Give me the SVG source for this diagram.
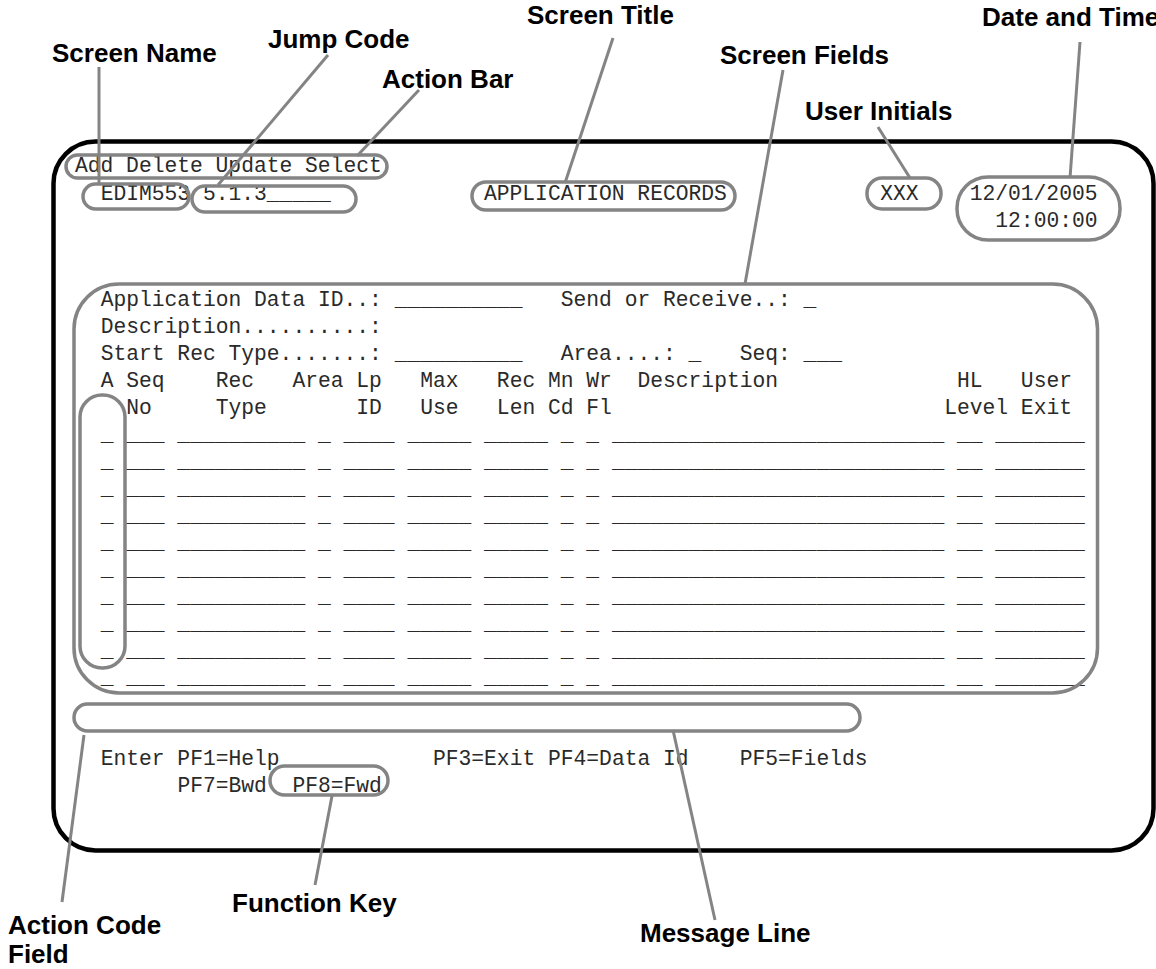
<svg xmlns="http://www.w3.org/2000/svg" width="1156" height="969" viewBox="0 0 1156 969" xml:space="preserve">
<style>
.scr{font-family:"Liberation Mono","Courier New",monospace;font-size:21.3px;fill:#2a2a2a;white-space:pre}
.lbl{font-family:"Liberation Sans",Arial,sans-serif;font-size:26px;font-weight:bold;fill:#000}
.hl{fill:none;stroke:#848484;stroke-width:3.5}
.con{stroke:#848484;stroke-width:3;fill:none}
</style>
<rect x="0" y="0" width="1156" height="969" fill="#fff"/>
<g id="frame"><rect x="53.5" y="141.5" width="1100" height="709" rx="42" fill="none" stroke="#000" stroke-width="4.5"/></g>
<g id="screen-text">
<text class="scr" xml:space="preserve" x="75" y="172">Add Delete Update Select</text>
<text class="scr" xml:space="preserve" x="100.7" y="200">EDIM553 5.1.3_____</text>
<text class="scr" xml:space="preserve" x="484" y="200">APPLICATION RECORDS</text>
<text class="scr" xml:space="preserve" x="880.3" y="200">XXX</text>
<text class="scr" xml:space="preserve" x="969.7" y="200">12/01/2005</text>
<text class="scr" xml:space="preserve" x="995.3" y="227">12:00:00</text>
<text class="scr" xml:space="preserve" x="100.7" y="306">Application Data ID..: __________   Send or Receive..: _</text>
<text class="scr" xml:space="preserve" x="100.7" y="333">Description..........:</text>
<text class="scr" xml:space="preserve" x="100.7" y="360">Start Rec Type.......: __________   Area....: _   Seq: ___</text>
<text class="scr" xml:space="preserve" x="100.7" y="387">A Seq    Rec   Area Lp   Max   Rec Mn Wr  Description              HL   User</text>
<text class="scr" xml:space="preserve" x="100.7" y="414">  No     Type       ID   Use   Len Cd Fl                          Level Exit</text>
<text class="scr" xml:space="preserve" x="100.7" y="441">_ ___ __________ _ ____ _____ _____ _ _ __________________________ __ _______</text>
<text class="scr" xml:space="preserve" x="100.7" y="468">_ ___ __________ _ ____ _____ _____ _ _ __________________________ __ _______</text>
<text class="scr" xml:space="preserve" x="100.7" y="495">_ ___ __________ _ ____ _____ _____ _ _ __________________________ __ _______</text>
<text class="scr" xml:space="preserve" x="100.7" y="522">_ ___ __________ _ ____ _____ _____ _ _ __________________________ __ _______</text>
<text class="scr" xml:space="preserve" x="100.7" y="549">_ ___ __________ _ ____ _____ _____ _ _ __________________________ __ _______</text>
<text class="scr" xml:space="preserve" x="100.7" y="576">_ ___ __________ _ ____ _____ _____ _ _ __________________________ __ _______</text>
<text class="scr" xml:space="preserve" x="100.7" y="603">_ ___ __________ _ ____ _____ _____ _ _ __________________________ __ _______</text>
<text class="scr" xml:space="preserve" x="100.7" y="630">_ ___ __________ _ ____ _____ _____ _ _ __________________________ __ _______</text>
<text class="scr" xml:space="preserve" x="100.7" y="657">_ ___ __________ _ ____ _____ _____ _ _ __________________________ __ _______</text>
<text class="scr" xml:space="preserve" x="100.7" y="684">_ ___ __________ _ ____ _____ _____ _ _ __________________________ __ _______</text>
<text class="scr" xml:space="preserve" x="100.7" y="765">Enter PF1=Help            PF3=Exit PF4=Data Id    PF5=Fields</text>
<text class="scr" xml:space="preserve" x="177.4" y="792">PF7=Bwd  PF8=Fwd</text>
</g>
<g id="box-action-bar"><rect class="hl" x="66" y="155" width="321" height="23" rx="11.5"/></g>
<g id="box-screen-name"><rect class="hl" x="83" y="184" width="106" height="25" rx="12.5"/></g>
<g id="box-jump-code"><rect class="hl" x="192" y="186" width="164" height="26" rx="13"/></g>
<g id="box-screen-title"><rect class="hl" x="472" y="182" width="263" height="28" rx="14"/></g>
<g id="box-user-initials"><rect class="hl" x="867" y="178" width="74" height="31" rx="15"/></g>
<g id="box-date-time"><rect class="hl" x="957" y="177" width="163" height="63" rx="31"/></g>
<g id="box-screen-fields"><rect class="hl" x="74" y="284" width="1023.5" height="409" rx="45"/></g>
<g id="box-action-code"><rect class="hl" x="80" y="395" width="45" height="273" rx="22"/></g>
<g id="box-message-line"><rect class="hl" x="74" y="704" width="786" height="27" rx="13.5"/></g>
<g id="box-function-key"><rect class="hl" x="270" y="766" width="118" height="29" rx="14.5"/></g>
<g id="connectors">
<line class="con" x1="99" y1="67" x2="99" y2="183"/>
<line class="con" x1="328" y1="55" x2="218" y2="185"/>
<line class="con" x1="419" y1="90" x2="357" y2="156"/>
<line class="con" x1="613" y1="38" x2="565" y2="183"/>
<line class="con" x1="783" y1="70" x2="745" y2="284"/>
<line class="con" x1="878" y1="127" x2="910" y2="178"/>
<line class="con" x1="1080" y1="42" x2="1070" y2="178"/>
<line class="con" x1="84" y1="735" x2="62" y2="902"/>
<line class="con" x1="332" y1="796" x2="315" y2="885"/>
<line class="con" x1="673" y1="730" x2="715" y2="920"/>
</g>
<g id="label-screen-name"><text class="lbl" x="52" y="62">Screen Name</text></g>
<g id="label-jump-code"><text class="lbl" x="268" y="48">Jump Code</text></g>
<g id="label-action-bar"><text class="lbl" x="382" y="88">Action Bar</text></g>
<g id="label-screen-title"><text class="lbl" x="527" y="24">Screen Title</text></g>
<g id="label-screen-fields"><text class="lbl" x="720" y="64">Screen Fields</text></g>
<g id="label-date-time"><text class="lbl" x="982" y="26">Date and Time</text></g>
<g id="label-user-initials"><text class="lbl" x="805" y="120">User Initials</text></g>
<g id="label-action-code"><text class="lbl" x="8" y="934">Action Code</text><text class="lbl" x="8" y="963">Field</text></g>
<g id="label-function-key"><text class="lbl" x="232" y="912">Function Key</text></g>
<g id="label-message-line"><text class="lbl" x="640" y="942">Message Line</text></g>
</svg>
